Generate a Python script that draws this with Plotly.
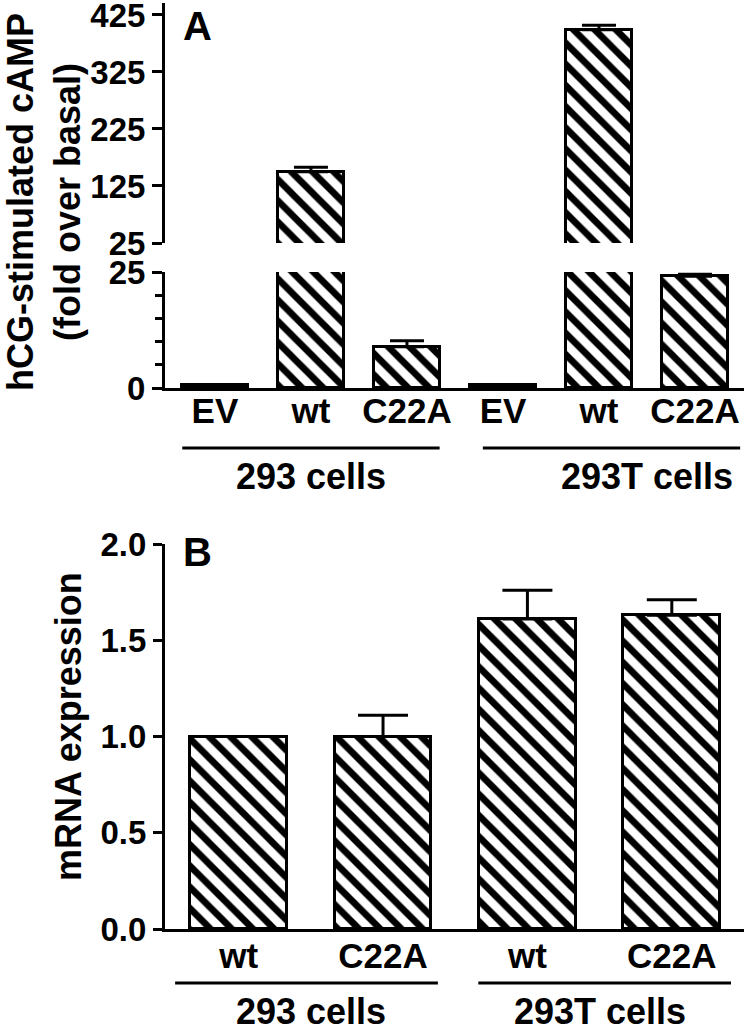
import plotly.graph_objects as go

# ---------------- data ----------------
labels_a = ["EV", "wt", "C22A", "EV", "wt", "C22A"]
cells_a = ["293 cells", "293 cells", "293 cells", "293T cells", "293T cells", "293T cells"]
camp_values = [0.6, 150, 8.9, 0.6, 399, 24.1]
camp_errors = [0.1, 8, 1.3, 0.1, 8, 0.4]

labels_b = ["wt", "C22A", "wt", "C22A"]
cells_b = ["293 cells", "293 cells", "293T cells", "293T cells"]
mrna_values = [1.0, 1.0, 1.61, 1.63]
mrna_errors = [0.0, 0.11, 0.15, 0.08]

upper_ticks = [25, 125, 225, 325, 425]
lower_ticks = [0, 25]
mrna_ticks = [0.0, 0.5, 1.0, 1.5, 2.0]

# ---------------- figure ----------------
W, H = 750, 1032
ML, MR = 165, 6
PW = W - ML - MR
BREAK = 25  # axis break value for panel A


def py(p):
    return 1 - p / H


def px_(p):
    return (p - ML) / PW


FONT = "Liberation Sans, Arial, Helvetica, sans-serif"
pattern = dict(shape="\\", size=15, solidity=0.45, fgcolor="black", bgcolor="white", fgopacity=1)
bar_line = dict(color="black", width=3)

xa = list(range(len(labels_a)))
xb = list(range(len(labels_b)))

upper_vals = [v if v > BREAK else None for v in camp_values]
upper_errs = [e if v > BREAK else 0 for v, e in zip(camp_values, camp_errors)]

fig = go.Figure()
fig.add_trace(go.Bar(
    x=xa, y=upper_vals, xaxis="x", yaxis="y", width=0.69,
    marker=dict(color="white", line=bar_line, pattern=pattern),
    error_y=dict(type="data", array=upper_errs, arrayminus=[0] * len(upper_errs),
                 symmetric=False, color="black", thickness=3, width=17),
    showlegend=False, hoverinfo="skip",
))
fig.add_trace(go.Bar(
    x=xa, y=camp_values, xaxis="x", yaxis="y2", width=0.69,
    marker=dict(color="white", line=bar_line, pattern=pattern),
    error_y=dict(type="data", array=camp_errors, arrayminus=[0] * len(camp_errors),
                 symmetric=False, color="black", thickness=3, width=17),
    showlegend=False, hoverinfo="skip",
))
fig.add_trace(go.Bar(
    x=xb, y=mrna_values, xaxis="x2", yaxis="y3", width=0.67,
    marker=dict(color="white", line=bar_line, pattern=pattern),
    error_y=dict(type="data", array=mrna_errors, arrayminus=[0] * len(mrna_errors),
                 symmetric=False, color="black", thickness=3, width=25),
    showlegend=False, hoverinfo="skip",
))

axis_common = dict(showline=True, linecolor="black", linewidth=3, showgrid=False,
                   zeroline=False, ticks="outside", tickcolor="black", tickwidth=3,
                   ticklen=10, tickfont=dict(size=33), automargin=False,
                   ticklabeloverflow="allow")

fig.update_layout(
    template="none",
    width=W, height=H,
    margin=dict(l=ML, r=MR, t=0, b=0, pad=0),
    paper_bgcolor="white", plot_bgcolor="white",
    font=dict(family=FONT, size=35, color="black", weight="bold"),
    bargap=0,
    xaxis=dict(domain=[0, 1], anchor="y2", range=[-0.52, 5.51],
               tickvals=xa, ticktext=labels_a, showline=True, linecolor="black",
               linewidth=3, showgrid=False, zeroline=False, ticks="",
               tickfont=dict(size=35), ticklabelstandoff=-10, automargin=False,
               ticklabeloverflow="allow"),
    yaxis=dict(domain=[py(243), py(3)], anchor="x", range=[BREAK, 446],
               tickvals=upper_ticks, **axis_common),
    yaxis2=dict(domain=[py(388), py(272)], anchor="x", range=[0, BREAK],
                tickvals=lower_ticks,
                minor=dict(dtick=5, ticks="outside", ticklen=7, tickwidth=3, tickcolor="black"),
                **axis_common),
    xaxis2=dict(domain=[0, 1], anchor="y3", range=[-0.51, 3.50],
                tickvals=xb, ticktext=labels_b, showline=True, linecolor="black",
                linewidth=3, showgrid=False, zeroline=False, ticks="",
                tickfont=dict(size=35), ticklabelstandoff=-6, automargin=False,
                ticklabeloverflow="allow"),
    yaxis3=dict(domain=[py(929), py(544)], anchor="x2", range=[0, 2.0],
                tickvals=mrna_ticks, tickformat=".1f", **axis_common),
)
fig.update_layout(yaxis3=dict(ticklen=9))


# group lines and labels
def groups(cells):
    out = []
    for g in dict.fromkeys(cells):
        idx = [i for i, c in enumerate(cells) if c == g]
        out.append((g, min(idx), max(idx)))
    return out


shapes = []
annotations = []
offs_a = {"293 cells": (-0.34, 0.34, 0.0), "293T cells": (-0.21, 0.47, 0.5)}
for g, i0, i1 in groups(cells_a):
    a, b, c = offs_a[g]
    shapes.append(dict(type="line", xref="x", yref="paper", x0=i0 + a, x1=i1 + b,
                       y0=py(448), y1=py(448), line=dict(color="black", width=3)))
    annotations.append(dict(text=g, xref="x", yref="paper", x=(i0 + i1) / 2 + c, y=py(477),
                            xanchor="center", yanchor="middle", showarrow=False,
                            font=dict(size=36)))
offs_b = {"293 cells": (-0.44, 0.38, 0.0), "293T cells": (-0.34, 0.41, 0.0)}
for g, i0, i1 in groups(cells_b):
    a, b, c = offs_b[g]
    shapes.append(dict(type="line", xref="x2", yref="paper", x0=i0 + a, x1=i1 + b,
                       y0=py(983), y1=py(983), line=dict(color="black", width=3)))
    annotations.append(dict(text=g, xref="x2", yref="paper", x=(i0 + i1) / 2 + c, y=py(1011),
                            xanchor="center", yanchor="middle", showarrow=False,
                            font=dict(size=36)))

annotations += [
    dict(text="A", xref="paper", yref="paper", x=px_(181), y=py(26), xanchor="left",
         yanchor="middle", showarrow=False, font=dict(size=40)),
    dict(text="B", xref="paper", yref="paper", x=px_(181), y=py(552), xanchor="left",
         yanchor="middle", showarrow=False, font=dict(size=40)),
    dict(text="hCG-stimulated cAMP<br>(fold over basal)", xref="paper", yref="paper",
         x=px_(44), y=py(202), xanchor="center", yanchor="middle", textangle=-90,
         showarrow=False, font=dict(size=36)),
    dict(text="mRNA expression", xref="paper", yref="paper",
         x=px_(68), y=py(727), xanchor="center", yanchor="middle", textangle=-90,
         showarrow=False, font=dict(size=36)),
]
fig.update_layout(shapes=shapes, annotations=annotations)

fig.write_html("out.html", config={"displayModeBar": False},
               post_script="document.body.style.margin='0';document.body.style.overflow='hidden';")
